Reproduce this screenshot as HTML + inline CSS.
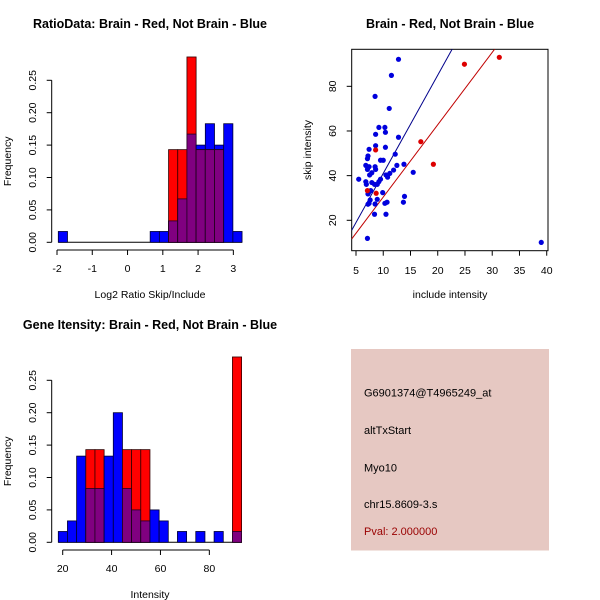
<!DOCTYPE html>
<html><head><meta charset="utf-8"><style>
html,body{margin:0;padding:0;background:#fff;}
svg{display:block;font-family:"Liberation Sans",sans-serif;}
</style></head><body>
<svg id="chart" width="600" height="600" viewBox="0 0 600 600"></svg>
<script>
// ---- Data ----
const ratioBinStart = -1.963;
const ratioBinWidth = 0.2605;
const ratioBlue = [0.0167,0,0,0,0,0,0,0,0,0,0.0167,0.0167,0.033,0.067,0.167,0.15,0.183,0.15,0.183,0.0167];
const ratioRed  = [0,0,0,0,0,0,0,0,0,0,0,0,0.143,0.143,0.286,0.143,0.143,0.143,0,0];
const ratioXTicks = [-2,-1,0,1,2,3];
const freqTicks = [0,0.05,0.10,0.15,0.20,0.25];
const freqTickLabels = ["0.00","0.05","0.10","0.15","0.20","0.25"];

const intBinStart = 18.2;
const intBinWidth = 3.75;
const intBlue = [0.0167,0.033,0.133,0.083,0.083,0.133,0.2,0.083,0.05,0.033,0.05,0.033,0,0.0167,0,0.0167,0,0.0167,0,0.0167];
const intRed  = [0,0,0,0.143,0.143,0,0,0.143,0.143,0.143,0,0,0,0,0,0,0,0,0,0.286];
const intXTicks = [20,40,60,80];

const blueX = [12.8,11.5,8.5,11.1,9.2,10.3,10.4,8.6,12.8,8.6,10.4,7.4,7.2,7.1,9.5,10.0,12.2,6.8,7.4,8.5,8.6,7.1,7.9,7.5,13.8,12.5,11.9,11.2,10.5,10.8,5.5,9.5,9.2,6.8,7.9,8.4,8.9,15.5,6.9,9.9,7.3,7.7,7.2,13.9,13.7,8.9,10.7,10.3,7.6,7.4,8.5,7.2,8.4,10.5,7.1,39.0];
const blueY = [92.1,84.9,75.5,70.1,61.6,61.6,59.4,58.5,57.2,53.4,52.7,51.8,48.8,47.6,46.9,46.9,49.6,44.6,44.0,44.0,42.8,42.8,41.3,40.3,45.1,44.6,42.5,41.0,40.3,39.3,38.4,38.4,37.3,37.3,36.9,36.1,36.1,41.5,36.1,32.4,32.4,33.3,31.8,30.7,28.1,29.4,28.1,27.6,29.1,27.6,27.3,27.2,22.7,22.7,11.9,10.1];
const redX = [8.6,8.7,7.1,16.9,19.2,24.9,31.3];
const redY = [51.5,32.1,33.3,55.2,45.1,89.9,93.0];
const blueLine = [-3.0,4.4];   // intercept, slope
const redLine = [-2.0,3.24];
const scXTicks = [5,10,15,20,25,30,35,40];
const scYTicks = [20,40,60,80];

const svg = document.getElementById('chart');
const NS = 'http://www.w3.org/2000/svg';
function mk(tag, attrs, parent){
  const e = document.createElementNS(NS, tag);
  for (const k in attrs) e.setAttribute(k, attrs[k]);
  (parent||svg).appendChild(e);
  return e;
}
function txt(s, attrs, parent){ const e = mk('text', attrs, parent); e.textContent = s; return e; }

function hist(name, title, ty, xScale, yScale, binStart, binW, blue, red, xTicks, xlab, xAxisY, xlabY, x0, x1){
  const g = mk('g', {});
  
  
  const t = txt(title, {x:150, y:ty, 'text-anchor':'middle', 'font-size':'12.5', 'font-weight':'bold'}, g);
  
  
  const n = blue.length;
  const bl = mk('line', {x1:xScale(binStart), x2:xScale(binStart+n*binW), y1:yScale(0), y2:yScale(0), stroke:'#000', 'stroke-width':1}, g);
  
  
  for (let i=0;i<n;i++){
    const xa = xScale(binStart+i*binW), xb = xScale(binStart+(i+1)*binW);
    const b = blue[i], r = red[i], m = Math.min(b, r);
    if (b>0){
      const rb = mk('rect', {x:xa, y:yScale(b), width:xb-xa, height:yScale(0)-yScale(b), fill:'#0000ff', stroke:'#000033', 'stroke-width':0.8}, g);
      
      
    }
    if (r>0){
      const rr = mk('rect', {x:xa, y:yScale(r), width:xb-xa, height:yScale(0)-yScale(r), fill:'#ff0000', stroke:'#330000', 'stroke-width':0.8}, g);
      
      
    }
    if (m>0){
      const rp = mk('rect', {x:xa, y:yScale(m), width:xb-xa, height:yScale(0)-yScale(m), fill:'#800080', stroke:'#200020', 'stroke-width':0.8}, g);
      
      
    }
  }
  const yax = mk('line', {x1:51.7, x2:51.7, y1:yScale(0), y2:yScale(0.25), stroke:'#000'}, g);
  
  
  freqTicks.forEach((v,i)=>{
    const y = yScale(v);
    mk('line', {x1:46.7, x2:51.7, y1:y, y2:y, stroke:'#000'}, g);
    const l = txt(freqTickLabels[i], {x:0, y:0, transform:`translate(36,${y}) rotate(-90)`, 'text-anchor':'middle', 'font-size':'10.5'}, g);
    
    
  });
  const yl = txt('Frequency', {x:0, y:0, transform:`translate(11,${yScale(0.125)}) rotate(-90)`, 'text-anchor':'middle', 'font-size':'10.5'}, g);
  
  
  const xax = mk('line', {x1:x0, x2:x1, y1:xAxisY, y2:xAxisY, stroke:'#000'}, g);
  
  
  xTicks.forEach(v=>{
    const x = xScale(v);
    mk('line', {x1:x, x2:x, y1:xAxisY, y2:xAxisY+5, stroke:'#000'}, g);
    const l = txt(String(v), {x:x, y:xAxisY+22, 'text-anchor':'middle', 'font-size':'10.5'}, g);
    
    
  });
  const xl = txt(xlab, {x:150, y:xlabY, 'text-anchor':'middle', 'font-size':'10.5'}, g);
  
  
}

const rx = v => 57 + (v+2)*35.27;
const ry = v => 242.3 - v*(242.3-80.3)/0.25;
hist('ratio-histogram', 'RatioData: Brain - Red, Not Brain - Blue', 28, rx, ry, ratioBinStart, ratioBinWidth, ratioBlue, ratioRed, ratioXTicks, 'Log2 Ratio Skip/Include', 250, 298, rx(-2), rx(3));

const ix = v => 62.7 + (v-20)*2.444;
const iy = v => 542.3 - v*(542.3-380.3)/0.25;
hist('intensity-histogram', 'Gene Itensity: Brain - Red, Not Brain - Blue', 329, ix, iy, intBinStart, intBinWidth, intBlue, intRed, intXTicks, 'Intensity', 550, 598, ix(20), ix(80));

const sx = v => 356 + (v-5)*5.449;
const sy = v => 220.3 - (v-20)*2.233;
const sg = mk('g', {});


const st = txt('Brain - Red, Not Brain - Blue', {x:450, y:28, 'text-anchor':'middle', 'font-size':'12.5', 'font-weight':'bold'}, sg);


const box = mk('rect', {x:351.7, y:49.3, width:196.3, height:201.4, fill:'none', stroke:'#000'}, sg);


const clip = mk('clipPath', {id:'sclip'}, sg);
mk('rect', {x:351.7, y:49.3, width:196.3, height:201.4}, clip);
const lx0 = 4.2, lx1 = 40.3;
const bL = mk('line', {x1:sx(lx0), y1:sy(blueLine[0]+blueLine[1]*lx0), x2:sx(lx1), y2:sy(blueLine[0]+blueLine[1]*lx1), stroke:'#00008b', 'stroke-width':1, 'clip-path':'url(#sclip)'}, sg);


const rL = mk('line', {x1:sx(lx0), y1:sy(redLine[0]+redLine[1]*lx0), x2:sx(lx1), y2:sy(redLine[0]+redLine[1]*lx1), stroke:'#c00000', 'stroke-width':1, 'clip-path':'url(#sclip)'}, sg);


blueX.forEach((v,i)=>{
  const c = mk('circle', {cx:sx(v), cy:sy(blueY[i]), r:2.6, fill:'#0000dd'}, sg);
  
  
});
redX.forEach((v,i)=>{
  const c = mk('circle', {cx:sx(v), cy:sy(redY[i]), r:2.6, fill:'#dd0000'}, sg);
  
  
});
scXTicks.forEach(v=>{
  const x = sx(v);
  mk('line', {x1:x, x2:x, y1:250.7, y2:255.7, stroke:'#000'}, sg);
  const l = txt(String(v), {x:x, y:274, 'text-anchor':'middle', 'font-size':'10.5'}, sg);
  
  
});
scYTicks.forEach(v=>{
  const y = sy(v);
  mk('line', {x1:346.7, x2:351.7, y1:y, y2:y, stroke:'#000'}, sg);
  const l = txt(String(v), {x:0, y:0, transform:`translate(336,${y}) rotate(-90)`, 'text-anchor':'middle', 'font-size':'10.5'}, sg);
  
  
});
const sxl = txt('include intensity', {x:450, y:298, 'text-anchor':'middle', 'font-size':'10.5'}, sg);


const syl = txt('skip intensity', {x:0, y:0, transform:'translate(311,150) rotate(-90)', 'text-anchor':'middle', 'font-size':'10.5'}, sg);



const ig = mk('g', {});


const ir = mk('rect', {x:351, y:349, width:198, height:201.5, fill:'#e6c8c2'}, ig);


const lines = [['G6901374@T4965249_at',396.5,'#000','probe-id'],['altTxStart',434,'#000','event-type'],['Myo10',471.5,'#000','gene-name'],['chr15.8609-3.s',508,'#000','location'],['Pval: 2.000000',535,'#990000','p-value']];
lines.forEach(([s,y,c,n])=>{
  const t = txt(s, {x:364, y:y, fill:c, 'font-size':'11'}, ig);
  
  
});
</script>
</body></html>
